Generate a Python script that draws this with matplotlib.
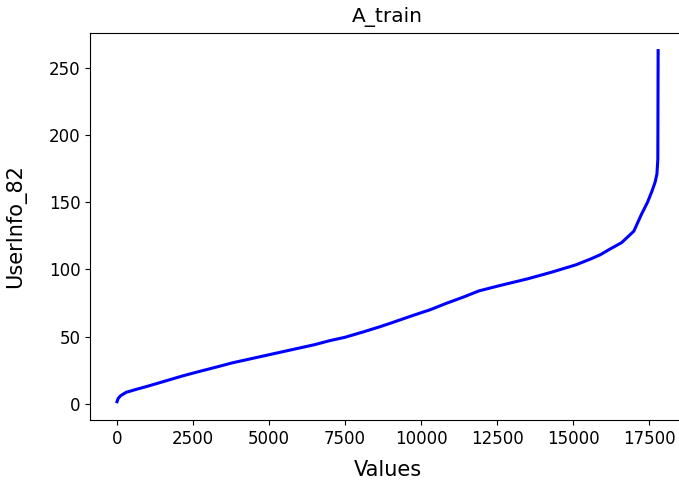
import numpy as np
import matplotlib
matplotlib.use('Agg')
import matplotlib.pyplot as plt

#--------------- Data ---------------
index = [0, 40, 120, 300, 600, 1000, 1600, 2200, 2700, 3300, 3800, 4400,
         4900, 5500, 6000, 6500, 7000, 7500, 8100, 8600, 9000, 9700, 10300,
         10800, 11400, 11900, 12500, 13500, 14300, 15100, 15600, 15900,
         16200, 16600, 17000, 17250, 17450, 17600, 17700, 17760, 17790, 17800]
values = [1.5, 4, 6, 8.5, 10.5, 13, 17, 21, 24, 27.5, 30.5, 33.5,
          36, 39, 41.5, 44, 47, 49.5, 53.5, 57, 60, 65.5, 70,
          74.5, 79.5, 84, 87.5, 93, 98, 103.5, 108, 111,
          115, 120, 128.5, 141, 150, 158.5, 165, 171, 182, 263]

#--------------- Style ---------------------
plt.rcParams['font.family'] = 'DejaVu Sans'
plt.rcParams['xtick.labelsize'] = 12
plt.rcParams['ytick.labelsize'] = 12
plt.rcParams['axes.labelsize'] = 15
plt.rcParams['axes.titlesize'] = 14.5

fig = plt.figure(figsize=(6.79, 4.82), dpi=100)
# the original is cropped on the right, so the axes run past the figure edge
ax = fig.add_axes([90 / 679, 1 - 420 / 482, 640 / 679, 387 / 482])

ax.plot(index, values, color='#0000ff', linewidth=2.2)

# centre of the (uncropped) original axes, in axes fraction
mid = (685 - 90) / 640 / 2

ax.set_xlim(-888, 20164)
ax.set_ylim(-12.1, 276.1)
ax.set_xticks([0, 2500, 5000, 7500, 10000, 12500, 15000, 17500])
ax.set_yticks([0, 50, 100, 150, 200, 250])
ax.set_xlabel("Values", labelpad=9)
ax.xaxis.label.set_x(mid)
ax.set_ylabel("UserInfo_82", labelpad=16)
ax.set_title("A_train", x=mid, pad=8)

fig.savefig("out.png", dpi=100)
